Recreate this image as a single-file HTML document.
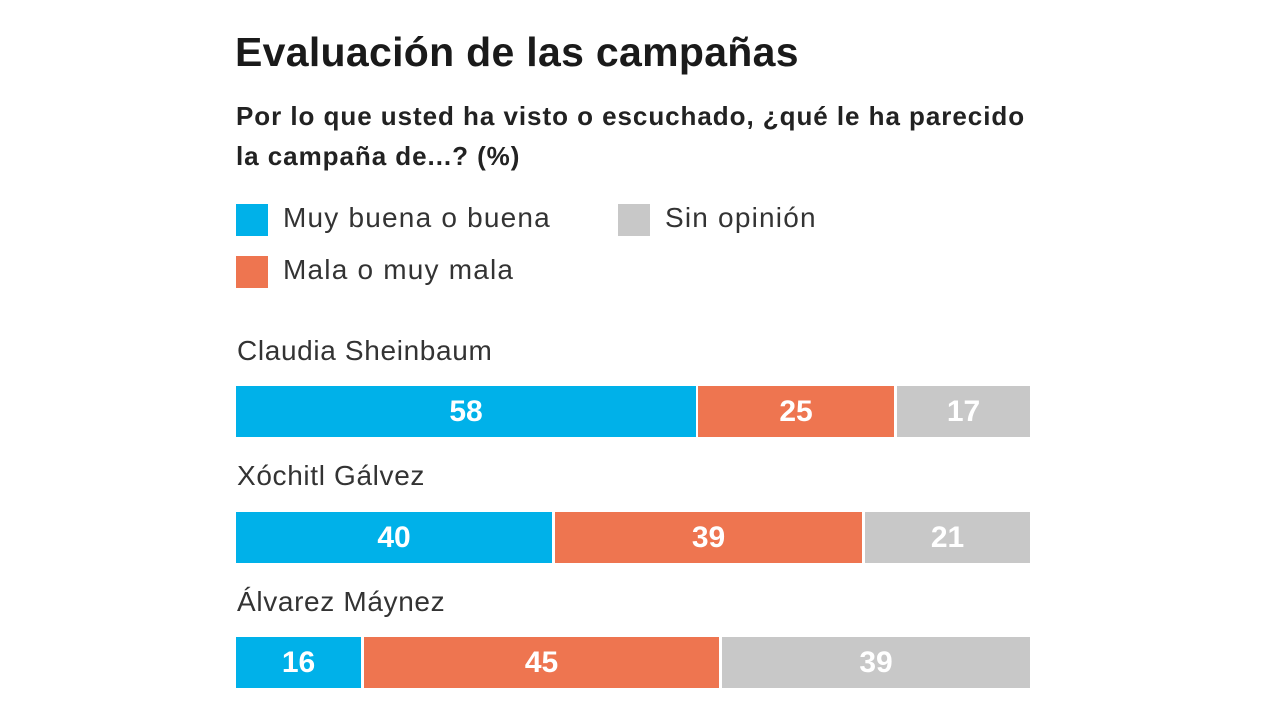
<!DOCTYPE html>
<html><head><meta charset="utf-8"><style>
body{margin:0;width:1280px;height:721px;background:#fff;position:relative;overflow:hidden;font-family:"Liberation Sans",sans-serif;color:#1a1a1a}
.a{position:absolute;white-space:nowrap}
.t{left:235px;top:29px;font-size:41px;font-weight:bold;letter-spacing:0.3px}
.s{left:236px;top:96px;font-size:26px;font-weight:bold;line-height:40px;color:#222;letter-spacing:0.95px}
.sq{position:absolute;width:32px;height:32px}
.lg{font-size:28px;color:#333;letter-spacing:1.2px}
.nm{font-size:28px;color:#333;left:237px;letter-spacing:0.65px}
.bar{position:absolute;height:51px;color:#fff;font-weight:bold;font-size:30px;display:flex;align-items:center;justify-content:center}
.b{background:#00b1e9}.o{background:#ee7550}.g{background:#c8c8c8}
</style></head><body>
<div class="a t">Evaluación de las campañas</div>
<div class="a s">Por lo que usted ha visto o escuchado, ¿qué le ha parecido<br>la campaña de...? (%)</div>
<div class="sq b" style="left:236px;top:204px"></div>
<div class="a lg" style="left:283px;top:202px">Muy buena o buena</div>
<div class="sq g" style="left:618px;top:204px"></div>
<div class="a lg" style="left:665px;top:202px">Sin opinión</div>
<div class="sq o" style="left:236px;top:256px"></div>
<div class="a lg" style="left:283px;top:254px">Mala o muy mala</div>

<div class="a nm" style="top:335px">Claudia Sheinbaum</div>
<div class="bar b" style="left:236px;width:460px;top:386px">58</div>
<div class="bar o" style="left:698px;width:196px;top:386px">25</div>
<div class="bar g" style="left:897px;width:133px;top:386px">17</div>

<div class="a nm" style="top:460px">Xóchitl Gálvez</div>
<div class="bar b" style="left:236px;width:316px;top:512px">40</div>
<div class="bar o" style="left:555px;width:307px;top:512px">39</div>
<div class="bar g" style="left:865px;width:165px;top:512px">21</div>

<div class="a nm" style="top:586px">Álvarez Máynez</div>
<div class="bar b" style="left:236px;width:125px;top:637px">16</div>
<div class="bar o" style="left:364px;width:355px;top:637px">45</div>
<div class="bar g" style="left:722px;width:308px;top:637px">39</div>
</body></html>
